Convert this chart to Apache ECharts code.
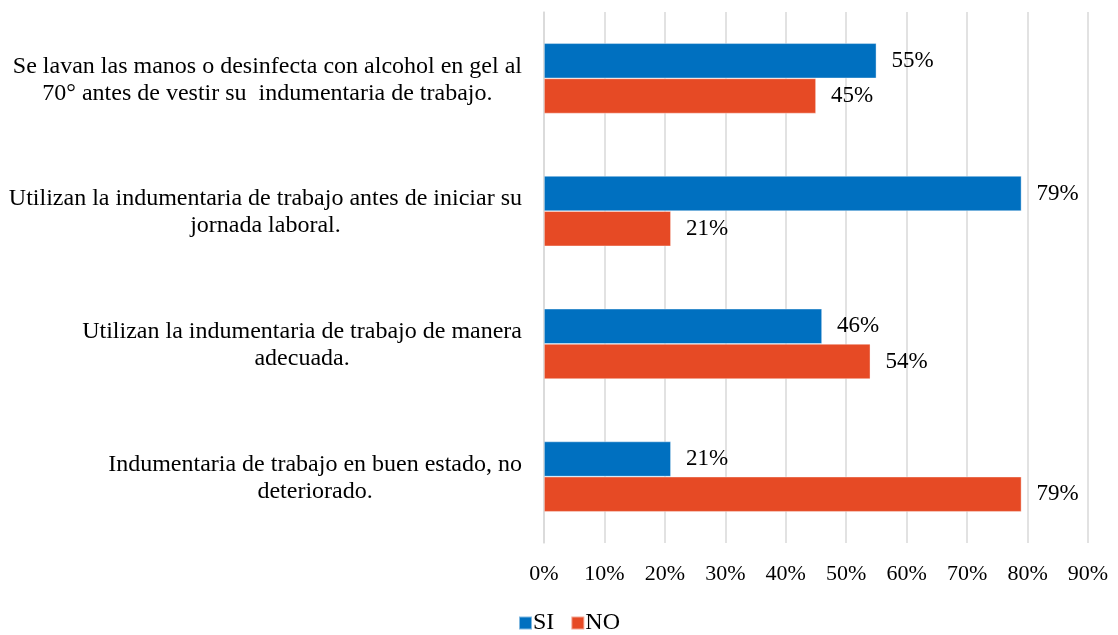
<!DOCTYPE html>
<html>
<head>
<meta charset="utf-8">
<script src="https://cdn.jsdelivr.net/npm/echarts@6/dist/echarts.min.js"></script>
<style>
html,body{margin:0;padding:0;background:#fff;}
#chart{width:1118px;height:635px;}
</style>
</head>
<body>
<div id="chart"></div>
<script>
const categories = [
  "Se lavan las manos o desinfecta con alcohol en gel al\n70° antes de vestir su  indumentaria de trabajo.",
  "Utilizan la indumentaria de trabajo antes de iniciar su\njornada laboral.",
  "Utilizan la indumentaria de trabajo de manera\nadecuada.",
  "Indumentaria de trabajo en buen estado, no\ndeteriorado."
];
const seriesNames = ["SI", "NO"];
const siValues = [55, 79, 46, 21];
const noValues = [45, 21, 54, 79];
const xTicks = { min: 0, max: 90, interval: 10 };

const FONT = "'Liberation Serif', 'Times New Roman', serif";
const chart = echarts.init(document.getElementById('chart'));
const barLabel = {
  show: true, position: 'right', distance: 15,
  formatter: p => p.value + '%',
  fontFamily: FONT, fontSize: 23, color: '#000'
};
chart.setOption({
  animation: false,
  backgroundColor: '#fff',
  grid: { left: 544, right: 30, top: 12, bottom: 92, containLabel: false },
  legend: {
    data: seriesNames,
    left: 513, top: 606,
    itemWidth: 13, itemHeight: 13, itemGap: 16,
    icon: 'rect',
    textStyle: { fontFamily: FONT, fontSize: 24, color: '#000', padding: [0, 0, 0, -4] }
  },
  xAxis: {
    type: 'value', min: xTicks.min, max: xTicks.max, interval: xTicks.interval,
    axisLine: { show: false }, axisTick: { show: false },
    axisLabel: { formatter: '{value}%', fontFamily: FONT, fontSize: 22, color: '#000', margin: 20 },
    splitLine: { show: true, lineStyle: { color: '#d9d9d9', width: 1.5 } }
  },
  yAxis: {
    type: 'category', data: categories, inverse: true,
    axisLine: { show: true, lineStyle: { color: '#d9d9d9', width: 1.5 } },
    axisTick: { show: false },
    axisLabel: {
      margin: 22,
      padding: [3, 0, 0, 0],
      formatter: v => v.split('\n').map(s => '{c|' + s + '}').join('\n'),
      rich: { c: { align: 'center', fontFamily: FONT, fontSize: 24, color: '#000', lineHeight: 27 } }
    }
  },
  series: [
    { name: seriesNames[0], type: 'bar', data: siValues, barGap: '0%', barCategoryGap: '47%',
      itemStyle: { color: '#0070C0', borderColor: 'rgba(255,255,255,0.5)', borderWidth: 0.75 }, label: barLabel },
    { name: seriesNames[1], type: 'bar', data: noValues, barGap: '0%', barCategoryGap: '47%',
      itemStyle: { color: '#E64A25', borderColor: 'rgba(255,255,255,0.5)', borderWidth: 0.75 }, label: barLabel }
  ]
});
</script>
</body>
</html>
